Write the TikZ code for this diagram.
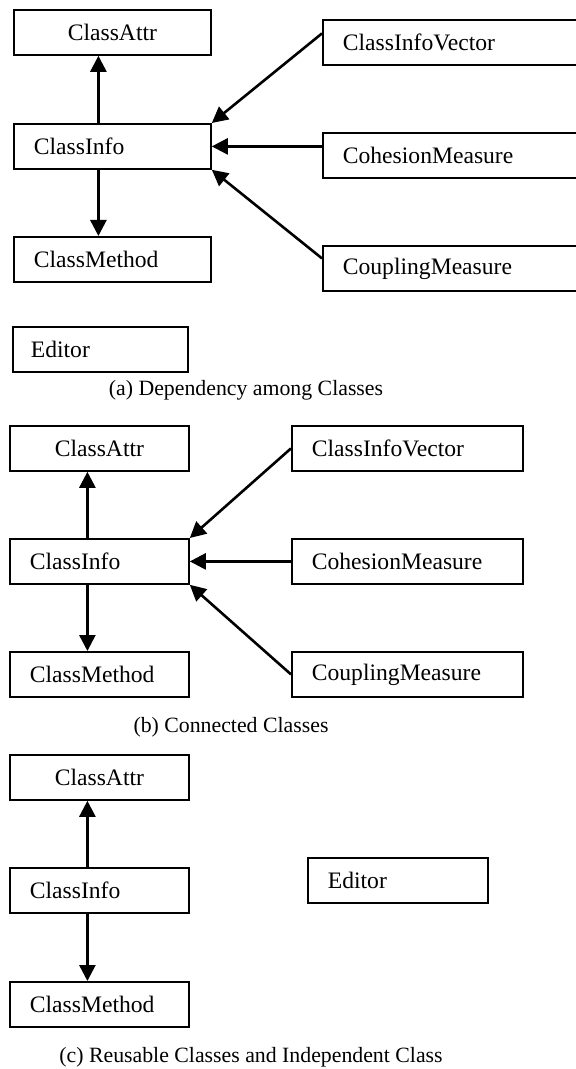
\documentclass[tikz,border=0pt]{standalone}
\usepackage{fontspec}
\setmainfont{Liberation Serif}
\usetikzlibrary{arrows.meta,positioning}

\begin{document}
\begin{tikzpicture}[x=0.5pt,y=-0.5pt,>={Triangle[length=8pt,width=8pt]},
  cls/.style={draw,line width=0.9pt,anchor=north west,minimum height=22.5pt,
    inner xsep=10pt,inner ysep=0pt,align=left,font=\fontsize{11.8}{14}\selectfont},
  dep/.style={->,line width=1.3pt},
  captxt/.style={font=\fontsize{10.9}{13}\selectfont}]
  \useasboundingbox (0,0) rectangle (575,1069);
  % (a)
  \node[cls,text width=78.5pt,align=center] (ca1) at (13,9) {ClassAttr};
  \node[cls,text width=78.5pt] (ci1) at (13,123) {ClassInfo};
  \node[cls,text width=78.5pt] (cm1) at (13,236) {ClassMethod};
  \node[cls,text width=69.5pt,inner xsep=9pt] (ed1) at (12,326) {Editor};
  \node[cls,text width=107.5pt] (civ1) at (322,19) {ClassInfoVector};
  \node[cls,text width=107.5pt] (coh1) at (322,132) {CohesionMeasure};
  \node[cls,text width=107.5pt] (cpl1) at (322,245) {CouplingMeasure};
  \draw[dep] ([xshift=-7pt]ci1.north) -- ([xshift=-7pt]ca1.south);
  \draw[dep] ([xshift=-7pt]ci1.south) -- ([xshift=-7pt]cm1.north);
  \draw[dep] ([yshift=4.5pt]civ1.west) -- (ci1.north east);
  \draw[dep] (ci1.east -| coh1.west) -- (ci1.east);
  \draw[dep] ([yshift=5pt]cpl1.west) -- (ci1.south east);
  \node[captxt] (capa) at (246,390) {(a) Dependency among Classes};
  % (b)
  \node[cls,text width=69.5pt,align=center] (ca2) at (9,425) {ClassAttr};
  \node[cls,text width=69.5pt] (ci2) at (9,538) {ClassInfo};
  \node[cls,text width=69.5pt] (cm2) at (9,651) {ClassMethod};
  \node[cls,text width=95.5pt] (civ2) at (291,425) {ClassInfoVector};
  \node[cls,text width=95.5pt] (coh2) at (291,538) {CohesionMeasure};
  \node[cls,text width=95.5pt] (cpl2) at (291,651) {CouplingMeasure};
  \draw[dep] ([xshift=-6pt]ci2.north) -- ([xshift=-6pt]ca2.south);
  \draw[dep] ([xshift=-6pt]ci2.south) -- ([xshift=-6pt]cm2.north);
  \draw[dep] (civ2.west) -- (ci2.north east);
  \draw[dep] (coh2.west) -- (ci2.east);
  \draw[dep] (cpl2.west) -- (ci2.south east);
  \node[captxt] (capb) at (231,727) {(b) Connected Classes};
  % (c)
  \node[cls,text width=69.5pt,align=center] (ca3) at (9,754) {ClassAttr};
  \node[cls,text width=69.5pt] (ci3) at (9,867) {ClassInfo};
  \node[cls,text width=69.5pt] (cm3) at (9,981) {ClassMethod};
  \node[cls,text width=70pt] (ed3) at (307,857) {Editor};
  \draw[dep] ([xshift=-6pt]ci3.north) -- ([xshift=-6pt]ca3.south);
  \draw[dep] ([xshift=-6pt]ci3.south) -- ([xshift=-6pt]cm3.north);
  \node[captxt] (capc) at (251,1057) {(c) Reusable Classes and Independent Class};
\end{tikzpicture}
\end{document}
